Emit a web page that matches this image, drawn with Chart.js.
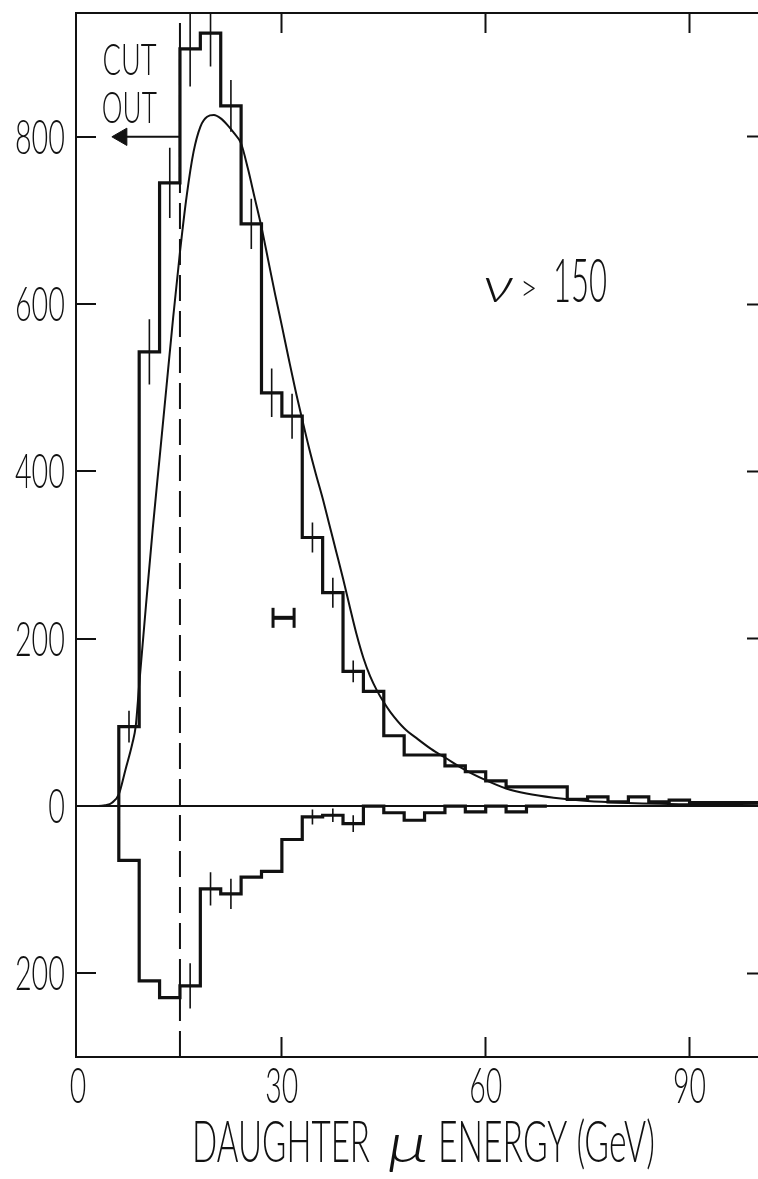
<!DOCTYPE html>
<html>
<head>
<meta charset="utf-8">
<script src="https://cdn.jsdelivr.net/npm/chart.js@4.4.1/dist/chart.umd.min.js"></script>
<style>
  html, body { margin: 0; padding: 0; background: #fff; overflow: hidden; }
  #wrap { position: relative; width: 790px; height: 1179px; }
</style>
</head>
<body>
<div id="wrap"><canvas id="chart"></canvas></div>
<script>
// histogram bins, 3 GeV wide
const binEdges = [6, 9, 12, 15, 18, 21, 24, 27, 30, 33, 36, 39, 42, 45, 48, 51, 54, 57, 60, 63, 66, 69, 72, 75, 78, 81, 84, 87, 90, 93, 96, 99, 102]
const upperCounts = [95, 543, 745, 905, 924, 837, 696, 494, 466, 321, 255, 161, 137, 84, 61, 61, 48, 41, 30, 23, 23, 23, 8, 11, 5, 11, 5, 7, 4, 4, 4, 4]
const lowerCounts = [-65, -209, -229, -215, -99, -105, -85, -78, -40, -13, -11, -21, 0, -8, -17, -8, 0, -7, 0, -7, 0]

// error bar half-widths (null = no bar drawn)
const upperErrors = [19, 39, 42, 45, 40, 31, 30, 29, 27, 18, 18, 13]
const lowerErrors = [null, null, null, 27, 20, 18, null, null, null, 9, 8, 10]

// smooth fitted curve
const curveEnergy = [0, 3, 4, 5, 6, 7, 8, 8.5, 9, 10, 11, 12, 13, 14, 15, 16, 17, 18, 19, 20, 21, 22, 23, 24, 25, 26, 27, 28, 29, 30, 31, 32, 33, 34, 35, 36, 37, 38, 39, 40, 41, 42, 43, 44, 45, 46, 48, 50, 52, 54, 57, 60, 63, 66, 70, 75, 80, 90, 101]
const curveCounts = [0, 0, 1, 4, 14, 44, 75, 96, 145, 240, 332, 416, 500, 584, 662, 730, 782, 812, 824, 826, 822, 814, 804, 792, 762, 727, 692, 652, 612, 574, 535, 497, 462, 428, 397, 368, 336, 304, 272, 238, 205, 177, 155, 138, 124, 112, 93, 80, 68, 58, 43, 31, 21, 15, 10, 6, 4, 2, 1]

// cut and resolution markers
const cutEnergy = 15
const cutArrowEnergy = [15, 6.45]
const cutArrowLevel = 800
const resolutionEnergy = [28.7, 31.8]
const resolutionLevel = 225

// ticks
const xTickValues = [0, 30, 60, 90]
const yTickValues = [-200, 0, 200, 400, 600, 800]

const X_MIN = -0.3
const X_MAX = 101.4
const Y_MIN = -300
const Y_MAX = 948

const INK = "#111"
const LABEL_FONT = 'Lato, Roboto, "Liberation Sans Narrow", "DejaVu Sans Condensed", sans-serif'

const stepData = (counts) => [
  { x: binEdges[0], y: 0 },
  ...counts.map((c, i) => ({ x: binEdges[i + 1], y: c })),
]

const errorData = (counts, errors) => {
  const pts = []
  errors.forEach((e, i) => {
    if (e == null) return
    const center = (binEdges[i] + binEdges[i + 1]) / 2
    pts.push({ x: center, y: counts[i] - e }, { x: center, y: counts[i] + e }, { x: center, y: null })
  })
  return pts
}

// draw text squeezed horizontally to a given width (the original lettering is very condensed)
const drawSqueezed = (ctx, text, x, y, { size, width, align = "left", family = LABEL_FONT, style = "normal", weight = 300 }) => {
  ctx.font = `${style} ${weight} ${size}px ${family}`
  const natural = ctx.measureText(text).width
  ctx.save()
  ctx.translate(x, y)
  ctx.scale(width / natural, 1)
  ctx.textAlign = align
  ctx.textBaseline = "alphabetic"
  ctx.fillText(text, 0, 0)
  ctx.restore()
}

const lettering = {
  id: "lettering",
  afterDraw(chart) {
    const { ctx, chartArea, scales } = chart
    const px = (v) => scales.x.getPixelForValue(v)
    const py = (v) => scales.y.getPixelForValue(v)
    ctx.save()
    ctx.fillStyle = INK

    yTickValues.forEach((v) => {
      const text = String(Math.abs(v))
      drawSqueezed(ctx, text, chartArea.left - 11, py(v) + 17, { size: 47, width: text.length * 16.7, align: "right" })
    })
    xTickValues.forEach((v) => {
      const text = String(v)
      drawSqueezed(ctx, text, px(v), chartArea.bottom + 46, { size: 50, width: text.length * 16.5, align: "center" })
    })

    const base = chartArea.bottom + 105
    drawSqueezed(ctx, "DAUGHTER", chartArea.left + 116, base, { size: 58, width: 178 })
    drawSqueezed(ctx, "μ", chartArea.left + 312, base, { size: 56, width: 40, style: "italic" })
    drawSqueezed(ctx, "ENERGY (GeV)", chartArea.left + 362, base, { size: 58, width: 217 })

    drawSqueezed(ctx, "CUT", px(3.6), py(874), { size: 44, width: 54 })
    drawSqueezed(ctx, "OUT", px(3.5), py(817), { size: 44, width: 55 })

    drawSqueezed(ctx, "ν", px(59.6), py(602), { size: 50, width: 30, style: "italic" })
    drawSqueezed(ctx, ">", px(65.1), py(604), { size: 38, width: 17 })
    drawSqueezed(ctx, "150", px(69.9), py(602), { size: 62, width: 54 })
    ctx.restore()
  },
}

const inwardTicks = (position, size) => ({
  type: "linear",
  position,
  axis: position === "top" || position === "bottom" ? "x" : "y",
  min: position === "top" || position === "bottom" ? X_MIN : Y_MIN,
  max: position === "top" || position === "bottom" ? X_MAX : Y_MAX,
  afterFit: (scale) => {
    if (scale.isHorizontal()) scale.height = size
    else scale.width = size
  },
  afterBuildTicks: (scale) => {
    const values = scale.isHorizontal() ? xTickValues : yTickValues
    scale.ticks = values.map((value) => ({ value }))
  },
  ticks: { display: false },
  grid: {
    drawOnChartArea: false,
    tickLength: -20,
    tickWidth: 2,
    tickColor: (c) => (c.tick && c.tick.value === 0 ? "transparent" : INK),
  },
  border: { display: true, color: INK, width: 2 },
})

const yLeft = inwardTicks("left", 76)
yLeft.grid = {
  drawOnChartArea: true,
  color: (c) => (c.tick && c.tick.value === 0 ? INK : "transparent"),
  lineWidth: 2,
  tickLength: -20,
  tickWidth: 2,
  tickColor: INK,
}

new Chart(document.getElementById("chart"), {
  type: "scatter",
  data: {
    datasets: [
      {
        label: "events",
        data: stepData(upperCounts),
        showLine: true,
        stepped: "after",
        borderColor: INK,
        borderWidth: 3.2,
        pointRadius: 0,
      },
      {
        label: "subtracted",
        data: stepData(lowerCounts),
        showLine: true,
        stepped: "after",
        borderColor: INK,
        borderWidth: 3.2,
        pointRadius: 0,
      },
      {
        label: "fit",
        data: curveEnergy.map((x, i) => ({ x, y: curveCounts[i] })),
        showLine: true,
        cubicInterpolationMode: "monotone",
        borderColor: INK,
        borderWidth: 2,
        pointRadius: 0,
      },
      {
        label: "errors",
        data: [...errorData(upperCounts, upperErrors), ...errorData(lowerCounts, lowerErrors)],
        showLine: true,
        spanGaps: false,
        borderColor: INK,
        borderWidth: 1.6,
        pointRadius: 0,
      },
      {
        label: "cut",
        data: [{ x: cutEnergy, y: Y_MIN }, { x: cutEnergy, y: Y_MAX }],
        showLine: true,
        borderColor: INK,
        borderWidth: 2,
        borderDash: [26, 10],
        pointRadius: 0,
      },
      {
        label: "cut arrow",
        data: cutArrowEnergy.map((x) => ({ x, y: cutArrowLevel })),
        showLine: true,
        borderColor: INK,
        borderWidth: 2,
        pointStyle: "triangle",
        pointRotation: -90,
        pointRadius: [0, 10],
        pointBackgroundColor: INK,
        pointBorderColor: INK,
        pointBorderWidth: 1,
      },
      {
        label: "resolution",
        data: resolutionEnergy.map((x) => ({ x, y: resolutionLevel })),
        showLine: true,
        borderColor: INK,
        borderWidth: 4,
        pointStyle: "line",
        pointRotation: 90,
        pointRadius: 10,
        pointBorderColor: INK,
        pointBorderWidth: 3,
      },
    ],
  },
  options: {
    animation: false,
    responsive: true,
    maintainAspectRatio: false,
    events: [],
    layout: { padding: 0 },
    plugins: {
      legend: { display: false },
      tooltip: { enabled: false },
    },
    scales: {
      x: inwardTicks("bottom", 122),
      xTop: inwardTicks("top", 13),
      y: yLeft,
      yRight: inwardTicks("right", 23),
    },
  },
  plugins: [lettering],
})
</script>
</body>
</html>
